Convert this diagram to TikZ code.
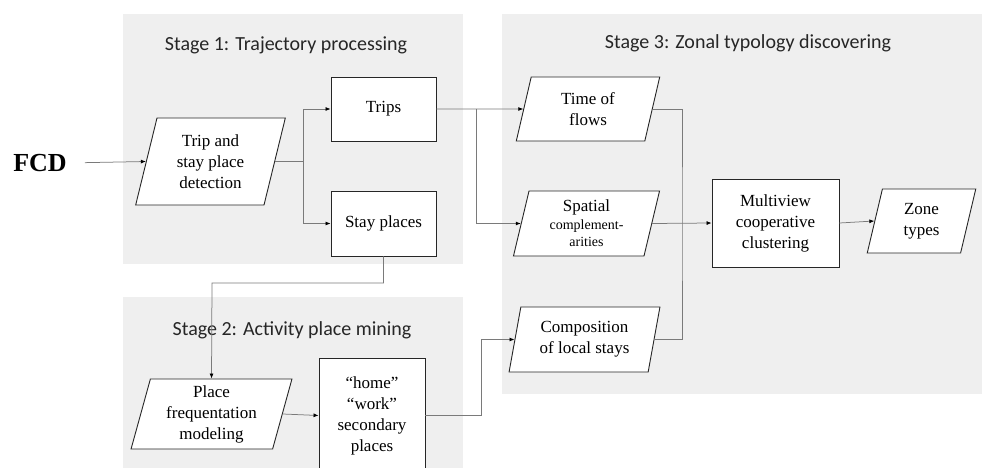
\documentclass[tikz,border=0pt]{standalone}
\usepackage{fontspec}
\setmainfont{Liberation Serif}
\newfontfamily\stagefont{Carlito}
\usetikzlibrary{shapes.geometric,arrows.meta}
\definecolor{panelgray}{HTML}{EFEFEF}
\definecolor{linegray}{HTML}{7A7A7A}
\tikzset{
  panel/.style={fill=panelgray, draw=none},
  stagetitle/.style={font=\stagefont\fontsize{20}{22}\selectfont, text=black!85, inner sep=0pt},
  txt/.style={font=\fontsize{17}{21}\selectfont, align=center},
  boxnode/.style={txt, draw=black!85, line width=0.9pt, fill=white, inner sep=0pt},
  para/.style={txt, trapezium, trapezium stretches=true, trapezium left angle=#1, trapezium right angle={180-#1}, draw=black!85, line width=0.9pt, fill=white, inner sep=0pt},
  conn/.style={draw=linegray, line width=0.75pt},
  arr/.style={conn, -{Latex[length=5pt,width=4pt,black]}}
}
\begin{document}
\begin{tikzpicture}[x=1pt,y=-1pt]
\useasboundingbox (0,0) rectangle (982,468);
\clip (0,0) rectangle (982,468);
% panels
\path[panel] (123,14) rectangle (463,264);
\path[panel] (123,297) rectangle (463,470);
\path[panel] (502,14) rectangle (984,394);
\node[stagetitle] (t1) at (286,45) {Stage 1: Trajectory processing};
\node[stagetitle] (t2) at (292,330) {Stage 2: Activity place mining};
\node[stagetitle] (t3) at (748,43) {Stage 3: Zonal typology discovering};
% nodes
\node[font=\bfseries\fontsize{26}{26}\selectfont, inner sep=0pt] (fcd) at (40,163) {FCD};
\node[para=76, minimum width=151pt, minimum height=87pt] (trip) at (210.5,161.5) {Trip and\\stay place\\detection};
\node[boxnode, minimum width=105pt, minimum height=64pt] (trips) at (383.5,109) {Trips};
\node[boxnode, minimum width=105pt, minimum height=65pt] (stay) at (383.5,223.5) {Stay places};
\node[para=76, minimum width=161pt, minimum height=70pt] (freq) at (211.5,414) {Place\\frequentation\\modeling};
\node[boxnode, minimum width=106pt, minimum height=115pt] (home) at (372,415.5) {``home''\\``work''\\secondary\\places};
\node[para=78, minimum width=144pt, minimum height=64pt] (flows) at (588,109) {Time of\\flows};
\node[para=78, minimum width=147pt, minimum height=65pt] (spatial) at (586.5,223.5) {Spatial\\[-3pt]{\fontsize{14}{17}\selectfont complement-}\\[-4pt]{\fontsize{14}{17}\selectfont arities}};
\node[para=77, minimum width=151pt, minimum height=65pt] (comp) at (584.5,339.5) {Composition\\of local stays};
\node[boxnode, minimum width=127pt, minimum height=88pt] (multi) at (775.5,223) {Multiview\\cooperative\\clustering};
\node[para=79, minimum width=109pt, minimum height=64pt] (zone) at (921.5,221) {Zone\\types};
% junction coordinates
\coordinate (b1) at (303,161.5);
\coordinate (b2) at (476,109);
\coordinate (b3) at (481,415.5);
\coordinate (b4) at (682,223.5);
\coordinate (b5) at (212,283);
% connectors
\draw[arr, shorten <=18pt] (fcd.east) -- (trip.west);
\draw[conn] (trip.east) -- (b1);
\draw[arr] (b1) |- (trips.west);
\draw[arr] (b1) |- (stay.west);
\draw[arr] (trips.east) -- (flows.west);
\draw[arr] (b2) |- (spatial.west);
\draw[arr] (stay.south) |- (b5) -- (freq.north);
\draw[arr] (freq.east) -- (home.west);
\draw[arr] (home.east) -- (b3) |- (comp.west);
\draw[conn] (flows.east) -| (b4) |- (comp.east);
\draw[arr] (spatial.east) -- (multi.west);
\draw[arr] (multi.east) -- (zone.west);
\end{tikzpicture}
\end{document}
